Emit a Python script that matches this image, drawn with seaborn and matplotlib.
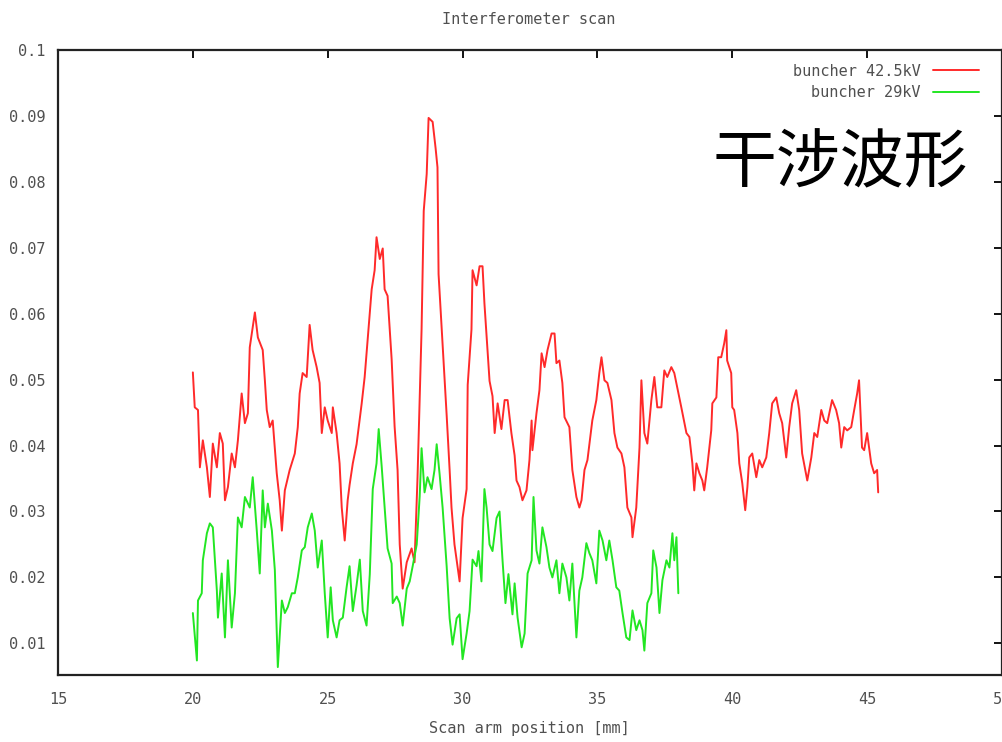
import numpy as np
import pandas as pd
import matplotlib
matplotlib.use("Agg")
import matplotlib.pyplot as plt
import seaborn as sns

# ---------------- data ----------------
red_x = [20.00, 20.07, 20.19, 20.26, 20.37, 20.52, 20.63, 20.74, 20.89, 21.00,
         21.11, 21.19, 21.30, 21.44, 21.56, 21.67, 21.81, 21.93, 22.04, 22.11,
         22.30, 22.41, 22.59, 22.67, 22.74, 22.85, 22.96, 23.11, 23.22, 23.30,
         23.41, 23.59, 23.78, 23.89, 23.96, 24.07, 24.22, 24.33, 24.44, 24.59,
         24.70, 24.78, 24.89, 25.00, 25.15, 25.19, 25.33, 25.44, 25.52, 25.63,
         25.74,
         25.81, 25.93, 26.07, 26.26, 26.37, 26.48, 26.63, 26.74, 26.81, 26.93,
         27.04, 27.11, 27.22, 27.37, 27.48, 27.59, 27.67, 27.78, 27.93, 28.11,
         28.22, 28.33, 28.48, 28.56, 28.67, 28.74, 28.89, 29.00, 29.07, 29.11,
         29.26, 29.41, 29.52, 29.59, 29.70, 29.81, 29.89, 30.00, 30.15, 30.19,
         30.33, 30.37, 30.52, 30.63, 30.74, 30.81, 30.93, 31.00, 31.11, 31.19,
         31.30, 31.44, 31.56, 31.67, 31.81, 31.93,
         32.00, 32.11, 32.22, 32.37, 32.48, 32.56, 32.59, 32.74, 32.85, 32.93,
         33.04, 33.15, 33.30, 33.41, 33.48, 33.59, 33.70, 33.78, 33.96, 34.07,
         34.22, 34.33, 34.41, 34.52, 34.63, 34.81, 34.96, 35.07, 35.15, 35.26,
         35.37, 35.52, 35.63, 35.74, 35.89, 36.00, 36.11, 36.26, 36.30, 36.44,
         36.56, 36.63, 36.74, 36.85, 37.00, 37.11, 37.22, 37.37, 37.48, 37.59,
         37.74, 37.85, 37.96, 38.11,
         38.30, 38.41, 38.52, 38.59, 38.67, 38.78, 38.89, 38.96, 39.07, 39.22,
         39.26, 39.41, 39.48, 39.59, 39.70, 39.78, 39.81, 39.96, 40.00, 40.07,
         40.19, 40.26, 40.37, 40.48, 40.56, 40.63, 40.74, 40.89, 41.00, 41.11,
         41.26, 41.37, 41.48, 41.63, 41.74, 41.85, 42.00, 42.11, 42.22, 42.37,
         42.48, 42.59, 42.78, 42.93, 43.04, 43.15, 43.30, 43.41, 43.52, 43.70,
         43.85, 43.96, 44.04, 44.15, 44.26, 44.41, 44.52, 44.63, 44.70, 44.81,
         44.89, 45.00, 45.15, 45.26, 45.37, 45.41]
red_y = [0.0511, 0.0458, 0.0454, 0.0367, 0.0408, 0.0367, 0.0322, 0.0403, 0.0367, 0.0419,
         0.0403, 0.0317, 0.0337, 0.0388, 0.0367, 0.0408, 0.0479, 0.0434, 0.0449, 0.0549,
         0.0602, 0.0564, 0.0545, 0.0499, 0.0454, 0.0428, 0.0438, 0.0358, 0.0317, 0.0271,
         0.0332, 0.0363, 0.0388, 0.0428, 0.0479, 0.0510, 0.0504, 0.0583, 0.0545, 0.0519,
         0.0495, 0.0419, 0.0458, 0.0438, 0.0419, 0.0458, 0.0419, 0.0373, 0.0306, 0.0256,
         0.0317,
         0.0340, 0.0373, 0.0402, 0.0464, 0.0504, 0.0560, 0.0637, 0.0666, 0.0716, 0.0683,
         0.0699, 0.0637, 0.0627, 0.0531, 0.0429, 0.0363, 0.0250, 0.0183, 0.0223, 0.0244,
         0.0223, 0.0352, 0.0576, 0.0756, 0.0812, 0.0897, 0.0891, 0.0851, 0.0822, 0.0660,
         0.0554, 0.0446, 0.0363, 0.0306, 0.0250, 0.0217, 0.0194, 0.0290, 0.0334, 0.0492,
         0.0576, 0.0666, 0.0643, 0.0672, 0.0672, 0.0616, 0.0542, 0.0498, 0.0475, 0.0419,
         0.0464, 0.0425, 0.0469, 0.0469, 0.0419, 0.0385,
         0.0347, 0.0337, 0.0317, 0.0332, 0.0378, 0.0438, 0.0393, 0.0449, 0.0484, 0.0540,
         0.0519, 0.0545, 0.0570, 0.0570, 0.0525, 0.0529, 0.0495, 0.0443, 0.0428, 0.0363,
         0.0322, 0.0306, 0.0317, 0.0363, 0.0378, 0.0438, 0.0469, 0.0510, 0.0534, 0.0499,
         0.0495, 0.0469, 0.0419, 0.0397, 0.0388, 0.0367, 0.0306, 0.0291, 0.0261, 0.0306,
         0.0397, 0.0499, 0.0419, 0.0403, 0.0469, 0.0504, 0.0458, 0.0458, 0.0514, 0.0504,
         0.0519, 0.0510, 0.0488, 0.0458,
         0.0419, 0.0413, 0.0373, 0.0332, 0.0373, 0.0358, 0.0347, 0.0332, 0.0367, 0.0423,
         0.0464, 0.0473, 0.0534, 0.0534, 0.0555, 0.0575, 0.0529, 0.0510, 0.0458, 0.0454,
         0.0419, 0.0373, 0.0343, 0.0302, 0.0337, 0.0382, 0.0388, 0.0352, 0.0378, 0.0367,
         0.0382, 0.0419, 0.0464, 0.0473, 0.0449, 0.0434, 0.0382, 0.0428, 0.0464, 0.0484,
         0.0454, 0.0388, 0.0347, 0.0382, 0.0419, 0.0413, 0.0454, 0.0438, 0.0434, 0.0469,
         0.0454, 0.0434, 0.0397, 0.0428, 0.0423, 0.0428, 0.0454, 0.0479, 0.0499, 0.0397,
         0.0393, 0.0419, 0.0373, 0.0358, 0.0363, 0.0329]

green_x = [20.00, 20.15, 20.19, 20.33, 20.37, 20.52, 20.63, 20.74, 20.89, 20.93,
           21.07, 21.19, 21.30, 21.44, 21.56, 21.67, 21.81, 21.93, 22.11, 22.22,
           22.37, 22.48, 22.59, 22.67, 22.78, 22.93, 23.04, 23.15, 23.30, 23.41,
           23.52, 23.67, 23.78, 23.89, 24.04, 24.15, 24.26, 24.41, 24.52, 24.63,
           24.78, 24.89, 25.00, 25.11, 25.19, 25.33, 25.44, 25.56, 25.70,
           25.81, 25.93, 26.07, 26.19, 26.30, 26.44, 26.56, 26.67, 26.81, 26.89,
           27.00, 27.11, 27.22, 27.37, 27.41, 27.56, 27.67, 27.78, 27.93, 28.04,
           28.15, 28.30, 28.41, 28.48, 28.59, 28.70, 28.85, 28.96, 29.04, 29.15,
           29.26, 29.41, 29.52, 29.63, 29.78, 29.89, 30.00, 30.15, 30.26, 30.37,
           30.52, 30.59, 30.70, 30.81, 30.89, 31.00, 31.11, 31.26, 31.37, 31.48,
           31.59, 31.70, 31.85,
           31.93, 32.04, 32.19, 32.30, 32.41, 32.56, 32.63, 32.74, 32.85, 32.96,
           33.11, 33.22, 33.33, 33.48, 33.59, 33.70, 33.85, 33.96, 34.07, 34.22,
           34.33, 34.44, 34.59, 34.70, 34.81, 34.96, 35.07, 35.19, 35.33, 35.44,
           35.56, 35.70, 35.81, 35.93, 36.07, 36.19, 36.30, 36.44, 36.56, 36.67,
           36.74, 36.85, 37.00, 37.07, 37.19, 37.30, 37.41, 37.56, 37.67, 37.78,
           37.85, 37.93, 38.00]
green_y = [0.0146, 0.0074, 0.0165, 0.0176, 0.0226, 0.0267, 0.0282, 0.0276, 0.0180, 0.0139,
           0.0206, 0.0109, 0.0226, 0.0124, 0.0176, 0.0291, 0.0276, 0.0322, 0.0306, 0.0352,
           0.0271, 0.0206, 0.0332, 0.0276, 0.0312, 0.0271, 0.0211, 0.0064, 0.0165, 0.0146,
           0.0155, 0.0176, 0.0176, 0.0200, 0.0241, 0.0246, 0.0276, 0.0297, 0.0271, 0.0215,
           0.0256, 0.0176, 0.0109, 0.0185, 0.0135, 0.0109, 0.0135, 0.0139, 0.0185,
           0.0217, 0.0149, 0.0188, 0.0227, 0.0149, 0.0127, 0.0205, 0.0334, 0.0373, 0.0425,
           0.0369, 0.0306, 0.0244, 0.0221, 0.0161, 0.0171, 0.0161, 0.0127, 0.0183, 0.0194,
           0.0217, 0.0250, 0.0323, 0.0396, 0.0329, 0.0352, 0.0334, 0.0363, 0.0402, 0.0356,
           0.0306, 0.0217, 0.0138, 0.0098, 0.0138, 0.0144, 0.0076, 0.0115, 0.0149, 0.0227,
           0.0217, 0.0240, 0.0194, 0.0334, 0.0306, 0.0250, 0.0240, 0.0290, 0.0300, 0.0227,
           0.0161, 0.0205, 0.0144,
           0.0191, 0.0139, 0.0094, 0.0115, 0.0206, 0.0226, 0.0322, 0.0241, 0.0221, 0.0276,
           0.0246, 0.0215, 0.0200, 0.0226, 0.0176, 0.0221, 0.0200, 0.0165, 0.0221, 0.0109,
           0.0180, 0.0200, 0.0252, 0.0237, 0.0226, 0.0191, 0.0271, 0.0256, 0.0226, 0.0256,
           0.0226, 0.0185, 0.0180, 0.0146, 0.0109, 0.0105, 0.0150, 0.0120, 0.0135, 0.0120,
           0.0089, 0.0161, 0.0176, 0.0241, 0.0215, 0.0146, 0.0196, 0.0226, 0.0215, 0.0267,
           0.0226, 0.0261, 0.0176]

series_labels = ["buncher 42.5kV", "buncher 29kV"]
x_ticks = [15, 20, 25, 30, 35, 40, 45, 50]
y_ticks = [0.01, 0.02, 0.03, 0.04, 0.05, 0.06, 0.07, 0.08, 0.09, 0.1]
y_tick_labels = ["0.01", "0.02", "0.03", "0.04", "0.05", "0.06", "0.07", "0.08", "0.09", "0.1"]
title_text = "Interferometer scan"
xlabel_text = "Scan arm position [mm]"
overlay_text = "干涉波形"

# ---------------- figure ----------------
sns.set_theme(style="white")
plt.rcParams["font.family"] = ["DejaVu Sans Mono", "DejaVu Sans"]

fig = plt.figure(figsize=(10.03, 7.42), dpi=100)
ax = fig.add_axes([58 / 1003, 1 - 675 / 742, 944 / 1003, 625 / 742])

df_red = pd.DataFrame({"x": red_x, "y": red_y})
df_green = pd.DataFrame({"x": green_x, "y": green_y})

sns.lineplot(data=df_red, x="x", y="y", ax=ax, color="#ff2a2a", lw=1.4,
             label=series_labels[0], sort=False)
sns.lineplot(data=df_green, x="x", y="y", ax=ax, color="#22e622", lw=1.4,
             label=series_labels[1], sort=False)

ax.set_xlim(15, 50)
ax.set_ylim(0.0052, 0.1)
ax.set_xticks(x_ticks)
ax.set_xticklabels([str(t) for t in x_ticks])
ax.set_yticks(y_ticks)
ax.set_yticklabels(y_tick_labels)

tick_col = "#505050"
ax.tick_params(axis="both", direction="in", length=6, width=1.3, color="black",
               labelsize=11, labelcolor=tick_col, top=True, right=True)
ax.tick_params(axis="y", pad=9)
ax.tick_params(axis="x", pad=12)
for s in ax.spines.values():
    s.set_color("#222222")
    s.set_linewidth(1.6)
ax.set_xlabel("")
ax.set_ylabel("")
ax.grid(False)

leg = ax.legend(loc="upper right", bbox_to_anchor=(0.985, 0.993), frameon=False,
                markerfirst=False, fontsize=11, handlelength=3.0, handletextpad=0.8,
                labelspacing=0.45, borderaxespad=0.2)
for t in leg.get_texts():
    t.set_color(tick_col)

fig.text(529 / 1003, 1 - 20 / 742, title_text, ha="center", va="center",
         fontsize=11, color=tick_col)
fig.text(529 / 1003, 1 - 728 / 742, xlabel_text, ha="center", va="center",
         fontsize=11, color=tick_col)
fig.text(713 / 1003, 1 - 164 / 742, overlay_text, ha="left", va="center",
         fontsize=46, color="black", family=["Noto Sans CJK SC", "DejaVu Sans"])

fig.savefig("out.png", dpi=100)
